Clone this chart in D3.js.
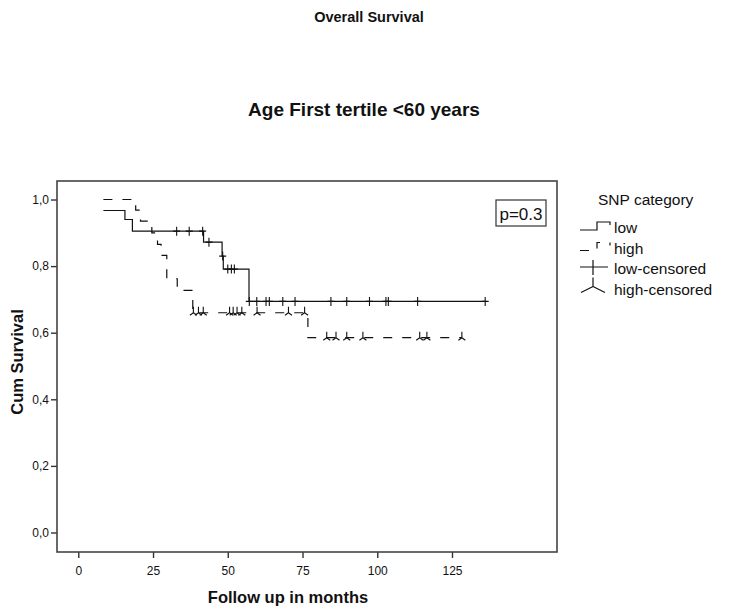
<!DOCTYPE html>
<html>
<head>
<meta charset="utf-8">
<script src="https://cdn.jsdelivr.net/npm/d3@7"></script>
<style>
    body { margin: 0; background: #fff; }
    text { font-family: "Liberation Sans", Arial, sans-serif; fill: #111; }
</style>
</head>
<body>
<svg id="chart" width="730" height="611"></svg>
<script>
'use strict';

// step points: months, cum survival (last point = end of follow up)
const lowTime = [8.4, 15.6, 18.1, 41.9, 48.1, 48.5, 57.1, 136.1];
const lowSurv = [0.967, 0.94, 0.905, 0.872, 0.83, 0.791, 0.694, 0.694];
const highTime = [8.4, 19.2, 20.8, 24.6, 26.5, 27.7, 29.6, 33.1, 38.3, 76.8, 128.3];
const highSurv = [1.0, 0.968, 0.935, 0.9, 0.865, 0.832, 0.762, 0.727, 0.66, 0.585, 0.585];

// censored cases (months)
const lowCensored = [32.9, 37.1, 41.6, 43.7, 48.3, 50.0, 51.2, 52.2, 57.2, 59.7, 62.8, 63.9,
    68.4, 72.5, 84.5, 89.8, 97.4, 102.9, 103.7, 113.5, 136.1];
const highCensored = [38.5, 40.2, 41.8, 50.6, 51.8, 53.1, 54.7, 59.8, 70.3, 75.7, 83.1, 86.2,
    89.8, 95.2, 114.2, 116.6, 128.3];

const xTicks = [0, 25, 50, 75, 100, 125];
const yTicks = [0, 0.2, 0.4, 0.6, 0.8, 1.0];
const legendLabels = ["low", "high", "low-censored", "high-censored"];

const svg = d3.select("#chart");

const box = {left: 57, right: 557, top: 181, bottom: 552};

const x = d3.scaleLinear().domain([-7.12, 160.12]).range([box.left, box.right]);
const y = d3.scaleLinear().domain([-0.0586, 1.0556]).range([box.bottom, box.top]);

// cum survival at time t from the step points
function survAt(times, surv, t) {
    let s = surv[0];
    for (let i = 0; i < times.length; i++) {
        if (times[i] <= t) s = surv[i];
    }
    return s;
}

// titles
svg.append("text")
    .attr("x", 369).attr("y", 22)
    .attr("text-anchor", "middle")
    .style("font-size", "14.5px").style("font-weight", "bold")
    .text("Overall Survival");

svg.append("text")
    .attr("x", 364).attr("y", 116)
    .attr("text-anchor", "middle")
    .style("font-size", "19px").style("font-weight", "bold")
    .text("Age First tertile <60 years");

// axes
const fmt = d => d3.format(".1f")(d).replace(".", ",");

const yAxis = svg.append("g")
    .attr("transform", "translate(" + box.left + ",0)")
    .call(d3.axisLeft(y).tickValues(yTicks).tickFormat(fmt).tickSize(6).tickPadding(2));

const xAxis = svg.append("g")
    .attr("transform", "translate(0," + box.bottom + ")")
    .call(d3.axisBottom(x).tickValues(xTicks).tickSize(6).tickPadding(8));

[yAxis, xAxis].forEach(function (a) {
    a.select(".domain").remove();
    a.selectAll("line").attr("stroke", "#333").attr("stroke-width", 1.4);
    a.selectAll("text").style("font-size", "12px").attr("fill", "#222")
        .style("font-family", '"Liberation Sans", Arial, sans-serif');
});

// plot frame
svg.append("rect")
    .attr("x", box.left).attr("y", box.top)
    .attr("width", box.right - box.left).attr("height", box.bottom - box.top)
    .attr("fill", "none").attr("stroke", "#444").attr("stroke-width", 1.6);

// axis titles
svg.append("text")
    .attr("x", 288).attr("y", 603)
    .attr("text-anchor", "middle")
    .style("font-size", "16.5px").style("font-weight", "bold")
    .text("Follow up in months");

svg.append("text")
    .attr("transform", "translate(23,362) rotate(-90)")
    .attr("text-anchor", "middle")
    .style("font-size", "16.5px").style("font-weight", "bold")
    .text("Cum Survival");

// survival curves
const line = d3.line()
    .x(d => x(d[0]))
    .y(d => y(d[1]))
    .curve(d3.curveStepAfter);

svg.append("path")
    .datum(d3.zip(lowTime, lowSurv))
    .attr("d", line)
    .attr("fill", "none").attr("stroke", "#111").attr("stroke-width", 1.2);

svg.append("path")
    .datum(d3.zip(highTime, highSurv))
    .attr("d", line)
    .attr("fill", "none").attr("stroke", "#111").attr("stroke-width", 1.2)
    .attr("stroke-dasharray", "9,10");

// censored marks
const plusMark = "M0,-4.5V4.5M-3.5,0H3.5";
const forkMark = "M0,-6V0M0,0L-3.5,2.5M0,0L3.5,2.5";

svg.append("g").selectAll("path")
    .data(lowCensored)
    .enter().append("path")
    .attr("transform", d => "translate(" + x(d) + "," + y(survAt(lowTime, lowSurv, d)) + ")")
    .attr("d", plusMark)
    .attr("fill", "none").attr("stroke", "#111").attr("stroke-width", 1.1);

svg.append("g").selectAll("path")
    .data(highCensored)
    .enter().append("path")
    .attr("transform", d => "translate(" + x(d) + "," + y(survAt(highTime, highSurv, d)) + ")")
    .attr("d", forkMark)
    .attr("fill", "none").attr("stroke", "#111").attr("stroke-width", 1.1);

// p value box
svg.append("rect")
    .attr("x", 496).attr("y", 200).attr("width", 50).attr("height", 26)
    .attr("fill", "#fff").attr("stroke", "#333").attr("stroke-width", 1.2);

svg.append("text")
    .attr("x", 521).attr("y", 220)
    .attr("text-anchor", "middle")
    .style("font-size", "17px")
    .text("p=0.3");

// legend
const legend = svg.append("g").attr("transform", "translate(580,0)");

legend.append("text")
    .attr("x", 18).attr("y", 205)
    .style("font-size", "15.5px")
    .text("SNP category");

const rowY = [233, 253.5, 274, 294.5];
const symbols = [
    {d: "M0,-3H17V-11H30V-8", dash: null},
    {d: "M0,-3H17V-11H30V-8", dash: "9,10"},
    {d: "M0,-7H28M13,-14V1", dash: null},
    {d: "M13,-17V-8M13,-8L1,-2M13,-8L25,-2", dash: null}
];

legendLabels.forEach(function (label, i) {
    legend.append("path")
        .attr("transform", "translate(0," + rowY[i] + ")")
        .attr("d", symbols[i].d)
        .attr("fill", "none").attr("stroke", "#111").attr("stroke-width", 1.2)
        .attr("stroke-dasharray", symbols[i].dash);
    legend.append("text")
        .attr("x", 34).attr("y", rowY[i])
        .style("font-size", "15.5px")
        .text(label);
});
</script>
</body>
</html>
